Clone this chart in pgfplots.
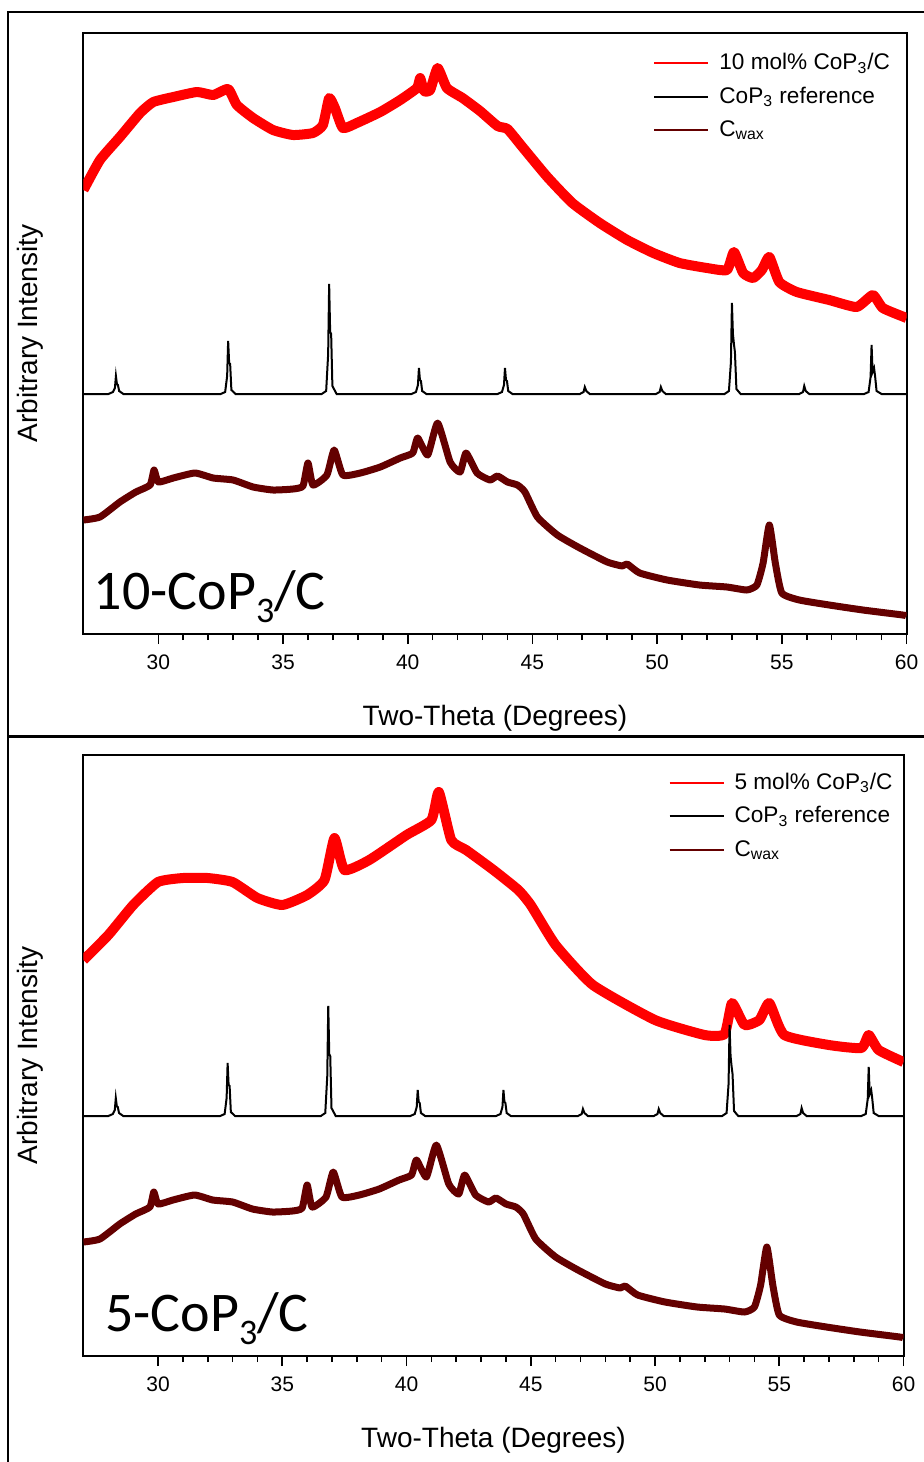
\documentclass[border=0pt]{standalone}
\usepackage{fontspec}
\setmainfont{Liberation Sans}
\newfontfamily\calibri{Carlito}
\usepackage{pgfplots}
\usepackage{pgfplotstable}
\pgfplotsset{compat=1.18}
\definecolor{wax}{RGB}{100,0,0}
\definecolor{xred}{RGB}{255,0,0}

\pgfplotstableread{
x y
27.0 444
27.66 474
28.46 497
29.27 521
29.8 532
30.6 537
31.55 542
32.2 539
32.8 545
33.15 529
33.8 516
34.6 504
35.4 499
36.2 501
36.6 509
36.85 536
37.08 526
37.4 506
37.96 511
38.9 522
39.7 534
40.37 546
40.5 556
40.65 543
40.9 544
41.2 566
41.57 546
42.2 536
42.9 523
43.6 508
44.0 505
44.6 487
45.6 457
46.6 431
47.7 411
48.8 394
49.85 381
50.9 371
52.0 366
52.8 364
53.08 382
53.45 361
53.85 356
54.2 364
54.5 377
54.9 352
55.6 342
56.9 334
58.0 327
58.65 339
59.05 326
59.9 317
60 316
}\redtop

\pgfplotstableread{
x y
27.0 396
28.0 421
29.0 451
30.0 474
31.0 478
32.0 478
33.0 474
34.0 458
35.0 451
36.0 461
36.7 476
37.1 518
37.5 486
38.5 496
40.0 521
41.0 536
41.3 564
41.8 516
42.4 506
43.5 486
44.5 466
45.0 451
46.0 411
47.5 371
50.0 336
52.0 321
52.8 322
53.1 353
53.6 331
54.2 336
54.6 353
55.2 321
57.0 311
58.3 308
58.6 321
59.0 306
60.0 294
}\redbot

\pgfplotstableread{
x y
27 240
28.0 240
28.18 242
28.26 246
28.3 258
28.34 250
28.38 249
28.43 243
28.6 240
32.5 240
32.68 242
32.76 258
32.8 293
32.84 271
32.88 270
32.93 244
33.1 240
36.55 240
36.73 243
36.81 280
36.85 350
36.89 302
36.93 300
36.98 248
37.15 240
40.15 240
40.33 242
40.41 249
40.45 266
40.49 254
40.53 253
40.58 243
40.75 240
43.6 240
43.78 242
43.86 249
43.9 266
43.94 254
43.98 253
44.03 243
44.2 240
46.9 240
47.05 242
47.1 247
47.16 243
47.3 240
49.95 240
50.1 242
50.15 247
50.21 243
50.35 240
52.7 240
52.88 243
52.96 272
53.0 331
53.04 300
53.08 290
53.12 282
53.18 245
53.35 240
55.7 240
55.85 242
55.9 248
55.96 243
56.1 240
58.3 240
58.48 242
58.56 257
58.6 289
58.64 262
58.7 266
58.74 258
58.8 243
59.0 240
60 240
}\refdata

\pgfplotstableread{
x y
27.0 114
27.66 117
28.46 132
29.1 142
29.67 149
29.83 164
30.0 152
30.6 156
31.47 161
32.2 156
33.0 154
33.8 147
34.6 144
35.4 145
35.8 148
36.0 171
36.2 149
36.76 159
37.05 184
37.4 159
38.1 161
38.9 167
39.7 176
40.2 181
40.4 196
40.8 179
41.2 211
41.7 172
42.1 162
42.34 181
42.78 161
43.3 154
43.6 158
44.0 152
44.4 149
44.7 142
45.2 117
46.0 99
46.9 86
48.0 72
48.6 68
48.8 70
49.3 61
50.4 54
51.7 49
52.8 47
53.6 44
54.0 49
54.25 71
54.5 109
54.74 71
55.0 41
55.7 34
56.9 29
58.25 24
59.85 19
60 18
}\waxdata

\pgfplotsset{
  xrdaxis/.style={
    scale only axis,
    xmin=27, xmax=60, ymin=0, ymax=601,
    ytick=\empty,
    xtick={30,35,...,60},
    minor x tick num=4,
    xtick pos=left,
    tick align=outside,
    major tick length=5pt,
    minor tick length=3pt,
    axis line style={line width=1pt},
    every tick/.style={black, line width=0.8pt},
    /pgf/number format/assume math mode=true,
    ticklabel style={font=\fontsize{10.5}{12}\selectfont},
    xticklabel style={yshift=-2pt},
    xlabel={Two-Theta (Degrees)},
    ylabel={Arbitrary Intensity},
    label style={font=\fontsize{14}{16}\selectfont},
    xlabel style={at={(axis description cs:0.5,-0.14)}, anchor=center},
    ylabel style={at={(axis description cs:-0.065,0.5)}, anchor=center},
    legend cell align=left,
    legend image code/.code={\draw[##1, line width=1pt] (0pt,0pt) -- (27pt,0pt);},
    legend style={draw=none, fill=none, anchor=north west,
      font=\fontsize{11.3}{13}\selectfont, row sep=4.2pt, column sep=3.5pt,
      inner sep=0pt, nodes={inner sep=1.5pt}},
  }
}

\begin{document}
\begin{tikzpicture}
\useasboundingbox (0,0) rectangle (462pt,-731pt);
\draw[line width=1.2pt] (4pt,-731pt) -- (4pt,-6pt) -- (462pt,-6pt);
\draw[line width=1.5pt] (4pt,-368pt) -- (462pt,-368pt);

\begin{axis}[xrdaxis,
  at={(41.75pt,-317pt)}, anchor=south west,
  width=411.5pt, height=300.5pt,
  legend style={at={(axis description cs:0.692,0.972)}}]
\addplot[xred, line width=5pt, line join=round, smooth, tension=0.3] table[x=x,y=y] {\redtop};
\addlegendentry{10 mol\% CoP\textsubscript{3}/C}
\addplot[black, line width=1pt] table[x=x,y=y] {\refdata};
\addlegendentry{CoP\textsubscript{3} reference}
\addplot[wax, line width=3.5pt, line join=round, smooth, tension=0.3] table[x=x,y=y] {\waxdata};
\addlegendentry{C\textsubscript{wax}}
\node[anchor=base west, inner sep=0pt, font=\calibri\fontsize{28}{30}\selectfont] at (rel axis cs:0.012,0.04) {10-CoP\raisebox{-0.22em}{\fontsize{18}{20}\selectfont 3}/C};
\end{axis}

\begin{axis}[xrdaxis,
  at={(41.75pt,-678pt)}, anchor=south west,
  width=410pt, height=300.5pt,
  legend style={at={(axis description cs:0.713,0.976)}}]
\addplot[xred, line width=5pt, line join=round, smooth, tension=0.3] table[x=x,y=y] {\redbot};
\addlegendentry{5 mol\% CoP\textsubscript{3}/C}
\addplot[black, line width=1pt] table[x=x,y=y] {\refdata};
\addlegendentry{CoP\textsubscript{3} reference}
\addplot[wax, line width=3.5pt, line join=round, smooth, tension=0.3] table[x=x,y=y] {\waxdata};
\addlegendentry{C\textsubscript{wax}}
\node[anchor=base west, inner sep=0pt, font=\calibri\fontsize{28}{30}\selectfont] at (rel axis cs:0.026,0.04) {5-CoP\raisebox{-0.22em}{\fontsize{18}{20}\selectfont 3}/C};
\end{axis}
\end{tikzpicture}
\end{document}
